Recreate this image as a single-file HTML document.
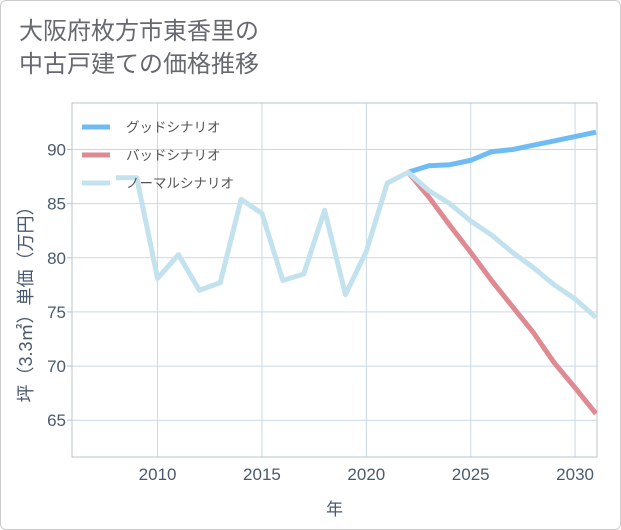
<!DOCTYPE html>
<html><head><meta charset="utf-8">
<style>
body{margin:0;background:#fff;}
#wrap{position:relative;width:621px;height:530px;box-sizing:border-box;border:1px solid #ccc;border-radius:6px;overflow:hidden;background:#fff;font-family:"Liberation Sans","Noto Sans CJK JP",sans-serif;}
.title{position:absolute;left:18px;top:14px;font-size:24px;line-height:33px;color:#666a70;}
</style></head><body>
<div id="wrap">
<div class="title">大阪府枚方市東香里の<br>中古戸建ての価格推移</div>
<svg id="chart" width="621" height="530" style="position:absolute;left:-1px;top:-1px"></svg>
</div>
<script>
const xTicks=[2010,2015,2020,2025,2030];
const yTicks=[65,70,75,80,85,90];
const normalYears=[2008,2009,2010,2011,2012,2013,2014,2015,2016,2017,2018,2019,2020,2021,2022,2023,2024,2025,2026,2027,2028,2029,2030,2031];
const normalVals=[87.4,87.4,78.1,80.3,77.0,77.7,85.4,84.1,77.9,78.5,84.4,76.6,80.6,86.9,87.9,86.2,85.0,83.4,82.1,80.5,79.1,77.5,76.2,74.5];
const futureYears=[2022,2023,2024,2025,2026,2027,2028,2029,2030,2031];
const goodVals=[87.9,88.5,88.6,89.0,89.8,90.0,90.4,90.8,91.2,91.6];
const badVals=[87.9,85.6,83.0,80.5,77.9,75.5,73.1,70.3,68.0,65.6];
const legendLabels=["グッドシナリオ","バッドシナリオ","ノーマルシナリオ"];

const svg=document.getElementById('chart');
const NS='http://www.w3.org/2000/svg';
const L=72,R=597,T=103,B=457;
const x0=2005.9,x1=2031.05,y0=61.6,y1=94.3;
const X=v=>L+(v-x0)/(x1-x0)*(R-L);
const Y=v=>B-(v-y0)/(y1-y0)*(B-T);
function mk(tag,attrs,parent){const e=document.createElementNS(NS,tag);for(const k in attrs)e.setAttribute(k,attrs[k]);(parent||svg).appendChild(e);return e;}

const grid=mk('g',{});


xTicks.forEach(t=>{
  const l=mk('line',{x1:X(t),x2:X(t),y1:T,y2:B,stroke:'#c9d9e6','stroke-width':1},grid);
  
  
  const tx=mk('text',{x:X(t),y:B+23,'text-anchor':'middle','font-size':17,fill:'#4a5a6e'});
  tx.textContent=t;
  
  
});
yTicks.forEach(t=>{
  const l=mk('line',{x1:L,x2:R,y1:Y(t),y2:Y(t),stroke:'#c9d9e6','stroke-width':1},grid);
  
  
  const tk=mk('line',{x1:L-5,x2:L,y1:Y(t),y2:Y(t),stroke:'#b0c4d4'});
  
  
  const tx=mk('text',{x:L-6,y:Y(t)+6,'text-anchor':'end','font-size':17,fill:'#4a5a6e'});
  tx.textContent=t;
  
  
});
const frame=mk('rect',{x:L,y:T,width:R-L,height:B-T,fill:'none',stroke:'#b8c4cc','stroke-width':1});



function line(years,vals,color,name){
  const p=mk('polyline',{points:years.map((y,i)=>X(y)+','+Y(vals[i])).join(' '),fill:'none',stroke:color,'stroke-width':5,'stroke-linejoin':'round'});
  
  
}
line(futureYears,goodVals,'#6fbcf5','good-scenario-line');
line(futureYears,badVals,'#df8a92','bad-scenario-line');
line(normalYears,normalVals,'#c2e2ee','normal-scenario-line');

const colors=['#6fbcf5','#df8a92','#c2e2ee'];
legendLabels.forEach((s,i)=>{
  const g=mk('g',{});
  
  
  const yy=127+i*28;
  mk('line',{x1:82,x2:110,y1:yy,y2:yy,stroke:colors[i],'stroke-width':5},g);
  const t=mk('text',{x:126,y:yy+5,'font-size':13.5,fill:'#555'},g);
  t.textContent=s;
});

const xt=mk('text',{x:(L+R)/2,y:515,'text-anchor':'middle','font-size':17,fill:'#4a5a6e'});
xt.textContent='年';


const yt=mk('text',{x:0,y:0,'text-anchor':'middle','font-size':18,fill:'#4a5a6e',transform:'translate(32,'+((T+B)/2+20)+') rotate(-90)'});
yt.textContent='坪（3.3㎡）単価（万円）';


</script>
</body></html>
